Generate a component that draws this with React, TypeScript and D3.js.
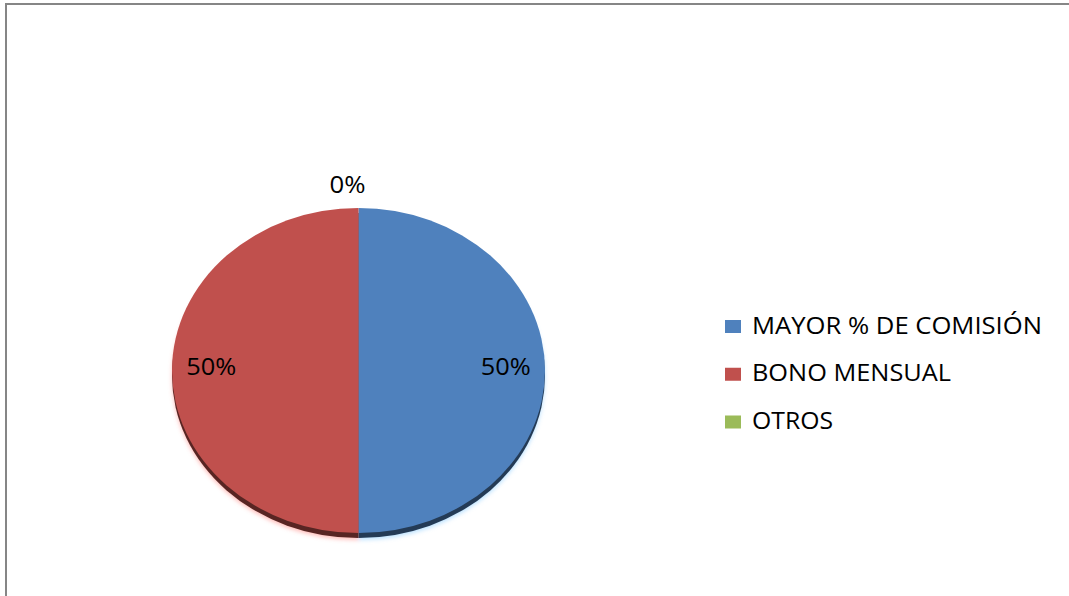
import React from "react";
import * as d3 from "d3";

const categories = ["MAYOR % DE COMISIÓN", "BONO MENSUAL", "OTROS"];
const values = [50, 50, 0];
const colors = ["#4F81BD", "#C0504D", "#9BBB59"];

const W = 1069;
const H = 596;
const cx = 358.5;
const cy = 370.5;
const rx = 186.5;
const ry = 162.5;
const depth = 5;
const FONT = "'Open Sans', 'Noto Sans', sans-serif";

export default function App() {
  const pieData = d3.pie<number>().sort(null).value((d) => d)(values);
  const arc = d3.arc<d3.PieArcDatum<number>>().innerRadius(0).outerRadius(ry);
  const total = d3.sum(values);
  const fmt = (v: number) => Math.round((v / total) * 100) + "%";
  const sx = rx / ry;

  const legendY = d3.scalePoint<string>().domain(categories).range([326.5, 422]);
  const legendLen = [290, 199, 81];

  return (
    <div style={{ position: "absolute", left: 0, top: 0, width: W, height: H, background: "#fff" }}>
      <svg width={W} height={H} style={{ display: "block" }}>
        <defs>
          <filter id="blur" x="-20%" y="-20%" width="140%" height="140%">
            <feGaussianBlur stdDeviation="2" />
          </filter>
        </defs>
        <rect x={0} y={0} width={W} height={H} fill="#fff" />
        {/* frame */}
        <line x1={5} x2={W} y1={4} y2={4} stroke="#868686" strokeWidth={2} />
        <line x1={6} x2={6} y1={3} y2={H} stroke="#868686" strokeWidth={2} />

        {/* soft shadow */}
        <g transform={`translate(${cx},${cy + depth + 2}) scale(${sx},1)`} filter="url(#blur)">
          {pieData.map((d, i) =>
            d.value > 0 ? (
              <path key={"s" + i} d={arc(d) || ""} fill={d3.color(colors[i])!.brighter(1.2).toString()} opacity={0.5} />
            ) : null
          )}
        </g>
        {/* rim */}
        <g transform={`translate(${cx},${cy + depth}) scale(${sx},1)`}>
          {pieData.map((d, i) =>
            d.value > 0 ? (
              <path key={"r" + i} d={arc(d) || ""} fill={d3.color(colors[i])!.darker(2.2).toString()} />
            ) : null
          )}
        </g>
        {/* top face */}
        <g transform={`translate(${cx},${cy}) scale(${sx},1)`}>
          {pieData.map((d, i) =>
            d.value > 0 ? <path key={"t" + i} d={arc(d) || ""} fill={colors[i]} /> : null
          )}
        </g>

        {/* data labels */}
        {pieData.map((d, i) => {
          const a = (d.startAngle + d.endAngle) / 2;
          const inside = d.value > 0;
          const k = inside ? 0.79 : 1.14;
          const x = cx + Math.sin(a) * rx * k + (inside ? 0 : -11);
          const y = cy - Math.cos(a) * ry * k + (inside ? 4 : 0);
          const label = fmt(d.value);
          return (
            <text
              key={"l" + i}
              x={x}
              y={inside ? y : 192.7}
              textAnchor="middle"
              fontFamily={FONT}
              fontSize={23}
              fill="#000"
              textLength={inside ? 50 : 36}
              lengthAdjust="spacingAndGlyphs"
            >
              {label}
            </text>
          );
        })}

        {/* legend */}
        {categories.map((c, i) => {
          const yc = legendY(c)!;
          return (
            <g key={"lg" + i}>
              <rect x={725} y={yc - 6.5} width={16} height={13} fill={colors[i]} />
              <text
                x={752}
                y={yc + 7}
                fontFamily={FONT}
                fontSize={23}
                fill="#000"
                textLength={legendLen[i]}
                lengthAdjust="spacingAndGlyphs"
              >
                {c}
              </text>
            </g>
          );
        })}
      </svg>
    </div>
  );
}
